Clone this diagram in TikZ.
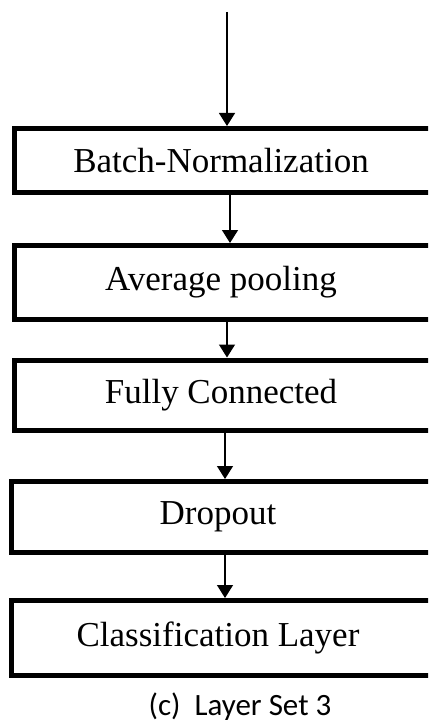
\documentclass[tikz,border=0pt]{standalone}
\usepackage{fontspec}
\setmainfont{Liberation Serif}
\newfontfamily\capfont{Carlito}
\usetikzlibrary{arrows.meta, positioning}

\tikzset{
  layerbox/.style={draw, line width=5pt, minimum width=430pt, inner sep=0pt,
    font=\fontsize{35}{42}\selectfont, execute at begin node=\hspace*{-16pt}},
  flow/.style={-{Triangle[width=16pt,length=13pt]}, line width=1.3pt}
}

\begin{document}
\begin{tikzpicture}[x=1pt, y=-1pt]
  \useasboundingbox (0,0) rectangle (428,722);
  \clip (0,0) rectangle (428,722);

  % Layers
  \node[layerbox, minimum height=64pt] (bn) at (229, 160.5) {Batch-Normalization};
  \node[layerbox, minimum height=74pt] (ap) at (229, 282.5) {Average pooling};
  \node[layerbox, minimum height=70pt] (fc) at (229, 395) {Fully Connected};
  \node[layerbox, minimum height=71pt] (do) at (226, 517) {Dropout};
  \node[layerbox, minimum height=75pt] (cl) at (226, 638) {Classification Layer};

  % Input
  \coordinate (in) at (227, 12);

  % Arrows
  \draw[flow] (in) -- (in |- bn.north);
  \draw[flow] ([xshift=1pt]bn.south) -- ([xshift=1pt]ap.north);
  \draw[flow] ([xshift=-2pt]ap.south) -- ([xshift=-2pt]fc.north);
  \draw[flow] ([xshift=-4pt]fc.south) -- ([xshift=-1pt]do.north);
  \draw[flow] ([xshift=-1pt]do.south) -- ([xshift=-1pt]cl.north);

  % Caption
  \node[font=\capfont\fontsize{31}{37}\selectfont] (cap) at (240, 706.5) {(c)\ \ Layer Set 3};
\end{tikzpicture}
\end{document}
